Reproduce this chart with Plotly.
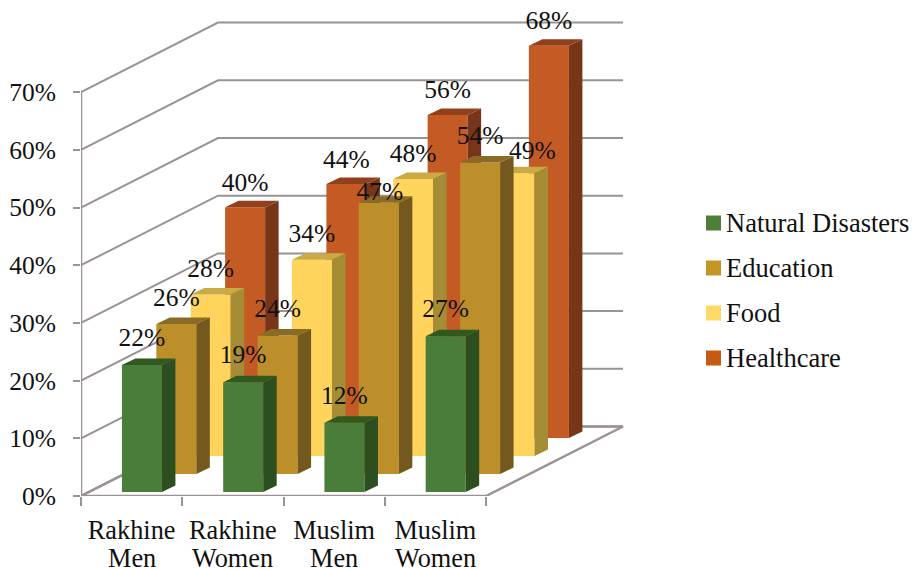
import plotly.graph_objects as go

cat_line1 = ["Rakhine", "Rakhine", "Muslim", "Muslim"]
cat_line2 = ["Men", "Women", "Men", "Women"]
series_names = ["Natural Disasters", "Education", "Food", "Healthcare"]
natural = [22, 19, 12, 27]
education = [26, 24, 47, 54]
food = [28, 34, 48, 49]
healthcare = [40, 44, 56, 68]
y_ticks = [0, 10, 20, 30, 40, 50, 60, 70]

values = [natural, education, food, healthcare]
front = ["#4a7d3a", "#bd8f2b", "#ffd45c", "#c45a24"]
side = ["#2d4f20", "#74591f", "#a58d36", "#77351a"]
top = ["#30591f", "#8a6b26", "#c9aa45", "#92401c"]
legend_col = ["#4e7e38", "#c49628", "#ffd966", "#c55a11"]

# plot-area scale
W, H = 912, 569
L, R, T, B = 81, W, 5, 496
PX_X = 101.25           # pixels per category
PX_Y = 5.77             # pixels per percent
x_range = [-0.5, -0.5 + (R - L) / PX_X]
y_range = [0, (B - T) / PX_Y]

# oblique projection constants (pixels converted to axis units)
WALL_DX, WALL_DY = 137 / PX_X, 69.5 / PX_Y
SER_DX, SER_DY = 34.4 / PX_X, 18 / PX_Y
BAR_X0, BAR_Y0 = 10.3 / PX_X, 4 / PX_Y
BAR_W = 40 / PX_X
SIDE_DX, SIDE_DY = 13.5 / PX_X, 6.5 / PX_Y
# labels moved by hand in the original (series, category): (dx px, dy px down)
LABEL_NUDGE = {(1, 2): (1, 15), (2, 3): (18, 3)}

GRID = "#9b9292"
TXT = dict(family="Liberation Serif", size=25.5, color="#111")
CAT = dict(family="Liberation Serif", size=26.3, color="#111")
fig = go.Figure()

# walls and floor
xs, ys = [], []
for t in y_ticks:
    xs += [-0.5, -0.5 + WALL_DX, -0.5 + WALL_DX + 405 / PX_X, None]
    ys += [t, t + WALL_DY, t + WALL_DY, None]
fig.add_trace(go.Scatter(x=xs, y=ys, mode="lines", line=dict(color=GRID, width=2),
                         showlegend=False, hoverinfo="skip", zorder=0))
fig.add_trace(go.Scatter(
    x=[-0.5, -0.5, None, -0.5, 3.5, 3.5 + WALL_DX, -0.5 + WALL_DX, -0.5],
    y=[0, y_ticks[-1], None, 0, 0, WALL_DY, WALL_DY, 0],
    mode="lines", line=dict(color=GRID, width=2.5),
    showlegend=False, hoverinfo="skip", zorder=0))

# bars, back-to-front through zorder
for s, (name, vals) in enumerate(zip(series_names, values)):
    z = 4 - s
    dx = BAR_X0 + s * SER_DX
    dy = BAR_Y0 + s * SER_DY
    fig.add_trace(go.Bar(
        x=[i + dx for i in range(4)], y=vals, base=[dy] * 4, width=BAR_W,
        marker=dict(color=front[s], line=dict(width=0)), name=name,
        showlegend=False, zorder=z))
    sx, sy, tx, ty = [], [], [], []
    for i, v in enumerate(vals):
        xl = i + dx - BAR_W / 2
        xr = i + dx + BAR_W / 2
        yb = dy
        yt = dy + v
        sx += [xr, xr + SIDE_DX, xr + SIDE_DX, xr, xr, None]
        sy += [yb, yb + SIDE_DY, yt + SIDE_DY, yt, yb, None]
        tx += [xl, xl + SIDE_DX, xr + SIDE_DX, xr, xl, None]
        ty += [yt, yt + SIDE_DY, yt + SIDE_DY, yt, yt, None]
    fig.add_trace(go.Scatter(x=sx, y=sy, mode="none", fill="toself", fillcolor=side[s],
                             showlegend=False, hoverinfo="skip", zorder=z))
    fig.add_trace(go.Scatter(x=tx, y=ty, mode="none", fill="toself", fillcolor=top[s],
                             showlegend=False, hoverinfo="skip", zorder=z))

# data labels
lx, ly, lt = [], [], []
for s, vals in enumerate(values):
    up = (25.5 - 0.9 * s) / PX_Y
    for i, v in enumerate(vals):
        ndx, ndy = LABEL_NUDGE.get((s, i), (0, 0))
        lx.append(i + BAR_X0 + s * SER_DX + ndx / PX_X)
        ly.append(BAR_Y0 + s * SER_DY + v + up - ndy / PX_Y)
        lt.append(f"{v}%")
fig.add_trace(go.Scatter(x=lx, y=ly, text=lt, mode="text", textposition="middle center",
                         textfont=TXT, showlegend=False, hoverinfo="skip", zorder=10))

annotations = []
shapes = []
# second line of the category labels
for i, t in enumerate(cat_line2):
    annotations.append(dict(x=i, y=0, xref="x", yref="paper", yshift=-62, yanchor="middle",
                            xanchor="center", text=t, showarrow=False, font=CAT))
# legend block, in page pixels
for s, name in enumerate(series_names):
    cy = 223 + 45 * s
    shapes.append(dict(type="rect", xref="paper", yref="paper", layer="above",
                       x0=(706 - L) / (R - L), x1=(721 - L) / (R - L),
                       y0=(B - cy - 7.5) / (B - T), y1=(B - cy + 7.5) / (B - T),
                       fillcolor=legend_col[s], line=dict(width=0)))
    annotations.append(dict(x=(726 - L) / (R - L), y=(B - cy) / (B - T), xref="paper", yref="paper",
                            xanchor="left", yanchor="middle", xshift=-2, text=name, showarrow=False,
                            font=dict(family="Liberation Serif", size=26.5, color="#111")))

fig.update_layout(
    width=W, height=H, margin=dict(l=L, r=W - R, t=T, b=H - B),
    paper_bgcolor="white", plot_bgcolor="white", barmode="overlay", showlegend=False,
    font=TXT, annotations=annotations, shapes=shapes,
    xaxis=dict(range=x_range, tickmode="array", tickvals=[0, 1, 2, 3], ticktext=cat_line1,
               tickfont=CAT,
               ticks="outside", ticklen=10, tickcolor="rgba(0,0,0,0)", showgrid=False,
               zeroline=False, showline=False, tickangle=0, automargin=False,
               minor=dict(tickmode="array", tickvals=[-0.5, 0.5, 1.5, 2.5, 3.5], ticks="outside",
                          ticklen=9, tickcolor=GRID, tickwidth=2, showgrid=False)),
    yaxis=dict(range=y_range, tickmode="array", tickvals=y_ticks, automargin=False,
               ticktext=[f"{t}%" for t in y_ticks], ticks="outside", ticklen=7,
               tickcolor=GRID, tickwidth=2, showgrid=False, zeroline=False, showline=False,
               ticklabelstandoff=12),
)
fig.write_html("out.html", config=dict(displayModeBar=False),
               post_script="document.body.style.margin='0';document.documentElement.style.overflow='hidden';")
